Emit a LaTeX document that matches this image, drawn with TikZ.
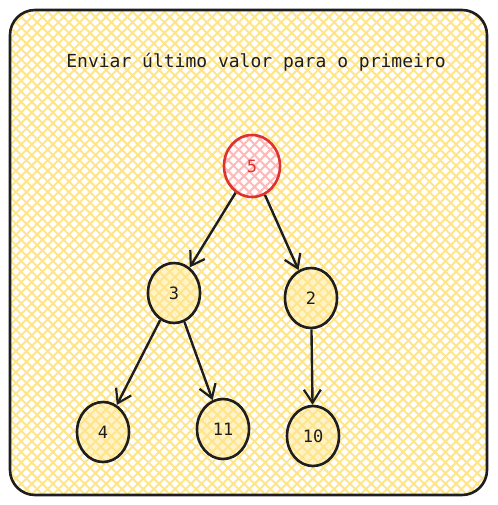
\documentclass[tikz,border=0pt]{standalone}
\usepackage{fontspec}
\setmonofont{DejaVu Sans Mono}
\usetikzlibrary{arrows.meta, positioning, shapes.geometric, patterns.meta}

\definecolor{inkblack}{HTML}{1E1E1E}
\definecolor{hatchyellow}{HTML}{FFE58A}
\definecolor{rootred}{HTML}{E03131}
\definecolor{hatchpink}{HTML}{FFB8B8}

\tikzset{
  hatchA/.style={pattern={Lines[angle=45,distance=7.5pt,line width=2pt]}, pattern color=#1},
  hatchB/.style={pattern={Lines[angle=-45,distance=7.5pt,line width=2pt]}, pattern color=#1},
  treenode/.style={draw=inkblack, line width=2.6pt, ellipse, inner sep=0pt,
    minimum width=52pt, minimum height=60pt, text=inkblack,
    preaction={fill=hatchyellow!45}, preaction={hatchA=hatchyellow}, preaction={hatchB=hatchyellow},
    font=\ttfamily\fontsize{17}{17}\selectfont},
  rootnode/.style={draw=rootred, line width=2.6pt, ellipse, inner sep=0pt,
    minimum width=56pt, minimum height=62pt, text=rootred,
    preaction={fill=white}, preaction={hatchA=hatchpink}, preaction={hatchB=hatchpink},
    font=\ttfamily\fontsize{17}{17}\selectfont},
  edge/.style={draw=inkblack, line width=2.4pt, -{Straight Barb[length=13pt,width=17pt,line width=2.2pt]}}
}

\begin{document}
\begin{tikzpicture}[x=1pt, y=-1pt]
    \useasboundingbox (0,0) rectangle (497,505);
    % background frame
    \fill[white] (10,10) rectangle (487,495);
    \fill[hatchA=hatchyellow, rounded corners=25pt] (10,10) rectangle (487,495);
    \fill[hatchB=hatchyellow, rounded corners=25pt] (10,10) rectangle (487,495);
    \draw[inkblack, line width=2.6pt, rounded corners=25pt] (10,10) rectangle (487,495);

    \node[text=inkblack, font=\ttfamily\fontsize{18}{18}\selectfont] (title) at (256,62) {Enviar último valor para o primeiro};

    \node[rootnode] (n5) at (252,166) {5};
    \node[treenode] (n3) at (174,293) {3};
    \node[treenode] (n2) at (311,298) {2};
    \node[treenode] (n4) at (103,432) {4};
    \node[treenode] (n11) at (223,429) {11};
    \node[treenode] (n10) at (313,436) {10};

    \draw[edge] (n5) -- (n3);
    \draw[edge] (n5) -- (n2);
    \draw[edge] (n3) -- (n4);
    \draw[edge] (n3) -- (n11);
    \draw[edge] (n2) -- (n10);
\end{tikzpicture}
\end{document}
